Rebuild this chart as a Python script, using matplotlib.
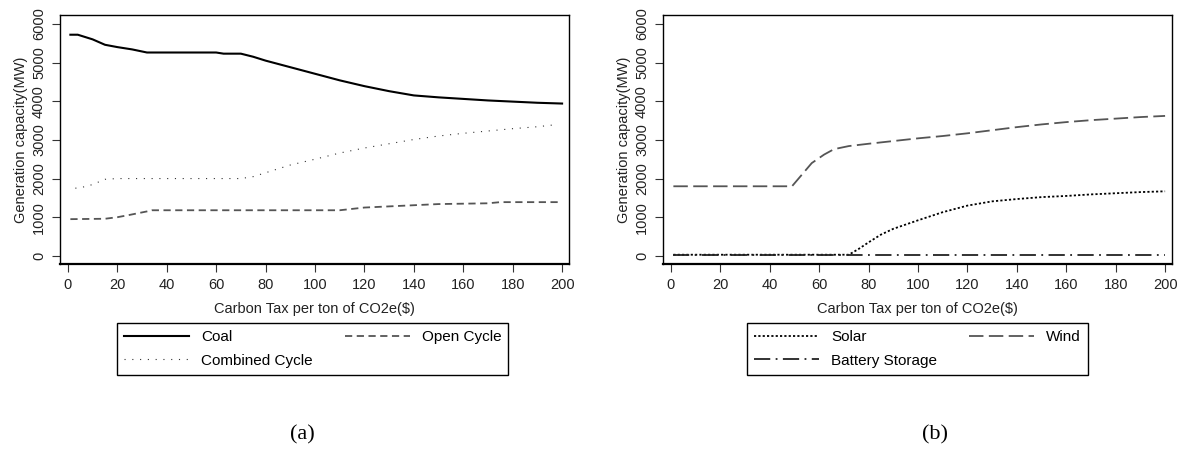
import matplotlib
matplotlib.use("Agg")
import matplotlib.pyplot as plt

plt.rcParams['font.family'] = ['Liberation Sans', 'DejaVu Sans']

# Panel (a): thermal generation
tax_coal = [1, 4, 10, 15, 20, 26, 32, 45, 60, 63, 70, 75, 80, 90, 100, 110, 120, 130, 140, 150, 160, 170, 180, 190, 200]
coal = [5720, 5720, 5600, 5460, 5400, 5340, 5260, 5260, 5260, 5230, 5230, 5150, 5050, 4880, 4710, 4540, 4390, 4260, 4150, 4100, 4060, 4020, 3990, 3960, 3940]

tax_cc = [3, 8, 12, 15, 20, 40, 60, 70, 75, 80, 90, 100, 110, 120, 130, 140, 150, 160, 170, 180, 190, 197]
combined = [1750, 1800, 1900, 1980, 2000, 2000, 2000, 2000, 2050, 2150, 2350, 2500, 2660, 2790, 2900, 3010, 3100, 3170, 3230, 3290, 3340, 3390]

tax_oc = [1, 15, 20, 25, 32, 34, 60, 110, 120, 130, 140, 150, 160, 170, 175, 200]
open_cycle = [950, 960, 1000, 1060, 1150, 1180, 1180, 1180, 1250, 1280, 1310, 1340, 1350, 1360, 1390, 1390]

# Panel (b): renewables
tax_wind = [1, 49, 53, 57, 62, 66, 72, 80, 90, 100, 110, 120, 130, 140, 150, 160, 170, 180, 190, 200]
wind = [1800, 1800, 2100, 2400, 2620, 2760, 2840, 2900, 2970, 3040, 3100, 3170, 3250, 3330, 3400, 3460, 3510, 3550, 3590, 3620]

tax_solar = [1, 72, 76, 80, 85, 90, 100, 110, 120, 130, 140, 150, 160, 170, 180, 190, 200]
solar = [30, 30, 180, 350, 550, 700, 920, 1130, 1300, 1410, 1470, 1520, 1550, 1590, 1620, 1650, 1670]

tax_batt = [1, 200]
battery = [10, 10]

W, H = 1182, 449
fig = plt.figure(figsize=(W / 100, H / 100), dpi=100)

def px_axes(x0, x1, y0, y1):
    return fig.add_axes([x0 / W, 1 - y1 / H, (x1 - x0) / W, (y1 - y0) / H])

ax1 = px_axes(60, 569, 15, 264)
ax2 = px_axes(663, 1172, 15, 264)

ax1.plot(tax_coal, coal, color='black', lw=1.5, label='Coal')
ax1.plot(tax_oc, open_cycle, color='#555555', lw=1.3, ls=(0, (4, 2.5)), label='Open Cycle')
ax1.plot(tax_cc, combined, color='#333333', lw=0.8, ls=(0, (1, 6)), label='Combined Cycle')

ax2.plot(tax_solar, solar, color='black', lw=1.3, ls=(0, (1.2, 1.2)), label='Solar')
ax2.plot(tax_wind, wind, color='#555555', lw=1.3, ls=(0, (8, 3)), label='Wind')
ax2.plot(tax_batt, battery, color='#222222', lw=1.3, ls=(0, (9, 3, 1, 3)), label='Battery Storage')

for ax in (ax1, ax2):
    ax.set_xlim(-3.2, 202.8)
    ax.set_ylim(-210, 6230)
    ax.set_xticks(range(0, 201, 20))
    ax.set_yticks(range(0, 6001, 1000))
    ax.tick_params(direction='out', length=6, width=0.8, pad=4, labelsize=10.5,
                   color='#333333', labelcolor='#222222')
    for lab in ax.get_yticklabels():
        lab.set_rotation(90)
        lab.set_va('center')
    ax.set_xlabel('Carbon Tax per ton of CO2e($)', fontsize=10.5, labelpad=7, color='#222222')
    ax.set_ylabel('Generation capacity(MW)', fontsize=10.5, labelpad=3, color='#222222')
    for s in ax.spines.values():
        s.set_linewidth(1.0)
    ax.spines['bottom'].set_linewidth(1.6)

leg_kw = dict(ncol=2, loc='upper left', frameon=True, fancybox=False, edgecolor='black',
              framealpha=1, fontsize=11, handlelength=4.25, handletextpad=0.8,
              columnspacing=2.1, borderaxespad=0, borderpad=0.45, labelspacing=0.65)

h1, l1 = ax1.get_legend_handles_labels()
order1 = [0, 2, 1]
fig.legend([h1[i] for i in order1], [l1[i] for i in order1],
           bbox_to_anchor=(117 / W, 1 - 323 / H), **leg_kw)

h2, l2 = ax2.get_legend_handles_labels()
order2 = [0, 2, 1]
fig.legend([h2[i] for i in order2], [l2[i] for i in order2],
           bbox_to_anchor=(747 / W, 1 - 323 / H), **leg_kw)

fig.text(302 / W, 1 - 435 / H, '(a)', family='Liberation Serif', fontsize=16, ha='center', va='center')
fig.text(935 / W, 1 - 435 / H, '(b)', family='Liberation Serif', fontsize=16, ha='center', va='center')

fig.savefig('out.png', dpi=100)
